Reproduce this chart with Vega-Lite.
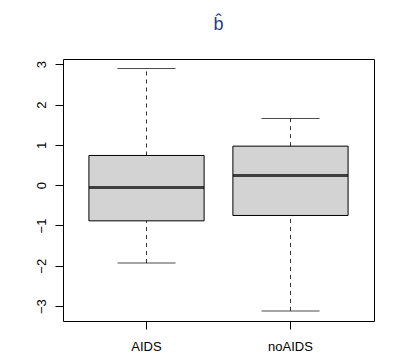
{
  "$schema": "https://vega.github.io/schema/vega-lite/v6.json",
  "autosize": {"type": "none"},
  "padding": {"left": 63, "top": 59, "right": 41, "bottom": 42},
  "width": 311,
  "height": 262,
  "background": "white",
  "title": {
    "text": "b\u0302",
    "font": "Liberation Sans",
    "fontSize": 18,
    "fontWeight": "normal",
    "color": "#1f3c88",
    "anchor": "middle",
    "baseline": "alphabetic",
    "offset": 11
  },
  "data": {
    "values": [
      {"group": "AIDS", "lower": -1.93, "q1": -0.885, "median": -0.058, "q3": 0.737, "upper": 2.896},
      {"group": "noAIDS", "lower": -3.119, "q1": -0.752, "median": 0.24, "q3": 0.968, "upper": 1.655}
    ]
  },
  "config": {
    "view": {"stroke": "black", "strokeWidth": 1},
    "axis": {
      "grid": false,
      "domain": false,
      "tickColor": "black",
      "tickSize": 8,
      "labelFont": "Liberation Sans",
      "labelFontSize": 13,
      "labelColor": "black",
      "title": null
    }
  },
  "encoding": {
    "x": {
      "field": "group",
      "type": "nominal",
      "scale": {"paddingInner": 0.2, "paddingOuter": 0.18},
      "axis": {"labelAngle": 0, "labelPadding": 11, "labelBaseline": "top"}
    }
  },
  "layer": [
    {
      "mark": {"type": "rule", "strokeDash": [4, 4], "color": "#333333"},
      "encoding": {
        "y": {"field": "lower", "type": "quantitative", "scale": {"domain": [-3.37, 3.13], "nice": false, "zero": false},
          "axis": {"values": [-3, -2, -1, 0, 1, 2, 3], "labelAngle": -90, "labelAlign": "center", "labelBaseline": "bottom", "labelPadding": 7}},
        "y2": {"field": "q1"}
      }
    },
    {
      "mark": {"type": "rule", "strokeDash": [4, 4], "color": "#333333"},
      "encoding": {
        "y": {"field": "q3", "type": "quantitative"},
        "y2": {"field": "upper"}
      }
    },
    {
      "mark": {"type": "bar", "color": "#d3d3d3", "stroke": "black", "strokeWidth": 1},
      "encoding": {
        "y": {"field": "q1", "type": "quantitative"},
        "y2": {"field": "q3"}
      }
    },
    {
      "mark": {"type": "tick", "color": "black", "size": 115, "thickness": 3},
      "encoding": {"y": {"field": "median", "type": "quantitative"}}
    },
    {
      "mark": {"type": "tick", "color": "black", "size": 58, "thickness": 1},
      "encoding": {"y": {"field": "lower", "type": "quantitative"}}
    },
    {
      "mark": {"type": "tick", "color": "black", "size": 58, "thickness": 1},
      "encoding": {"y": {"field": "upper", "type": "quantitative"}}
    }
  ]
}
